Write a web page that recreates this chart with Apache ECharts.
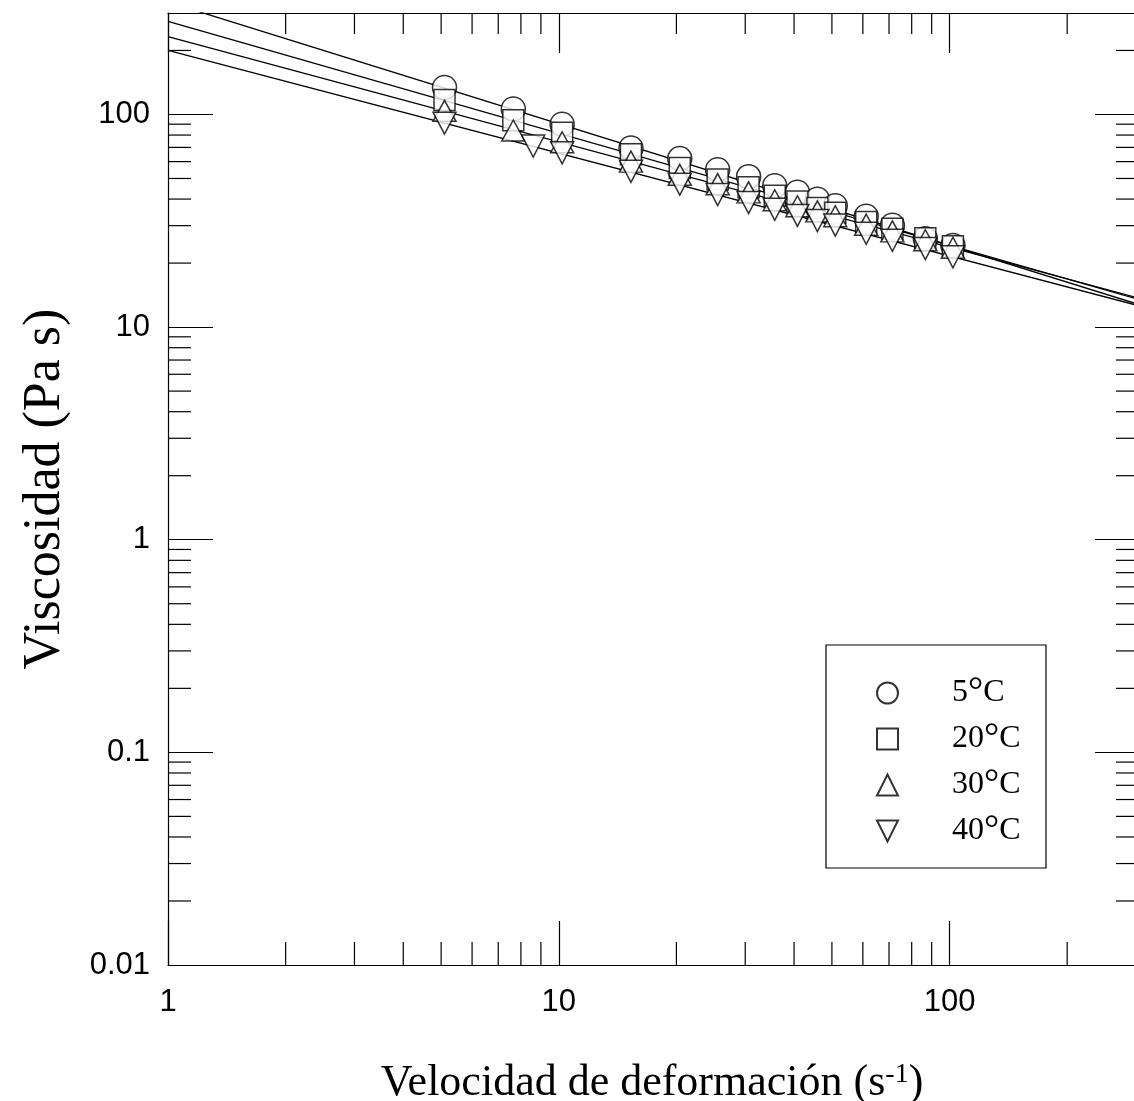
<!DOCTYPE html>
<html>
<head>
<meta charset="utf-8">
<script src="https://cdn.jsdelivr.net/npm/echarts@6/dist/echarts.min.js"></script>
<style>
  html, body { margin: 0; padding: 0; background: #fff; }
  #chart { width: 1134px; height: 1101px; }
</style>
</head>
<body>
<div id="chart"></div>
<script>
// shear rates (s^-1)
const shearRate = [5.1, 7.65, 10.2, 15.3, 20.4, 25.5, 30.6, 35.7, 40.8, 45.9, 51, 61.2, 71.4, 86.7, 102];
const shearRate40 = [5.1, 8.6, 10.2, 15.3, 20.4, 25.5, 30.6, 35.7, 40.8, 45.9, 51, 61.2, 71.4, 86.7, 102];

// viscosity (Pa s)
const visc5 = [134, 106, 90, 69.5, 62, 55, 51, 46.2, 43.1, 39.9, 37.2, 33.2, 30.1, 26.0, 24.2];
const visc20 = [117, 94, 82, 65, 56, 49.5, 45.5, 41.5, 39, 36.3, 34.5, 31.2, 29, 26.2, 24.0];
const visc30 = [104, 84, 74, 60, 52, 47, 43, 39.5, 37, 35, 33.2, 30.3, 28.2, 25.6, 23.6];
const visc40 = [91, 71, 66, 54, 47, 42, 38.5, 35.8, 33.5, 31.7, 30.2, 27.6, 25.6, 23.4, 21.4];

// power-law fit lines, value read at x = 1 and x = 300
const fitAt1 = [338, 274, 232, 200];
const fitAt300 = [12.9, 13.6, 13.8, 12.7];

const seriesNames = ['5°C', '20°C', '30°C', '40°C'];
const xTickLabels = ['1', '10', '100'];
const yTickLabels = ['0.01', '0.1', '1', '10', '100'];

const xMin = 1, xMax = 300, yMin = 0.01, yMax = 300;

// minor ticks 2..9 of each decade
function minorTicks(lo, hi) {
  const out = [];
  for (let e = Math.floor(Math.log10(lo)); e <= Math.ceil(Math.log10(hi)); e++) {
    for (let m = 2; m <= 9; m++) {
      const v = m * Math.pow(10, e);
      if (v > lo && v < hi) out.push(v);
    }
  }
  return out;
}
const xMinor = minorTicks(xMin, xMax);
const yMinor = minorTicks(yMin, yMax);

function decadeLabel(labels) {
  return function (v) {
    for (const s of labels) {
      if (Math.abs(parseFloat(s) - v) / v < 1e-6) return s;
    }
    return '';
  };
}

const black = '#000';
const serif = 'Liberation Serif';
const sans = 'Liberation Sans';

const axisBase = {
  type: 'log',
  logBase: 10,
  axisLine: { show: true, lineStyle: { color: black, width: 1.2 } },
  splitLine: { show: false },
  minorTick: { show: false },
};

const markerStyle = { color: '#fff', borderColor: black, borderWidth: 1.5 };
const symbols = ['circle', 'rect', 'triangle', 'path://M0,0L10,0L5,10Z'];
const sizes = [24, 21, [23, 21], [23, 22]];
const xData = [shearRate, shearRate, shearRate, shearRate40];
const yData = [visc5, visc20, visc30, visc40];

const fitSeries = fitAt1.map((v, i) => ({
  name: 'fit' + i,
  type: 'line',
  data: [[xMin, v], [xMax, fitAt300[i]]],
  showSymbol: false,
  symbol: 'none',
  lineStyle: { color: black, width: 1.3 },
  clip: true,
  silent: true,
  z: 2,
}));

const pointSeries = seriesNames.map((name, i) => ({
  name: name,
  type: 'scatter',
  data: xData[i].map((x, j) => [x, yData[i][j]]),
  symbol: symbols[i],
  symbolSize: sizes[i],
  itemStyle: markerStyle,
  z: 3,
}));

const minorSeries = {
  type: 'custom',
  silent: true,
  clip: false,
  z: 4,
  data: xMinor.map(v => [v, yMin, 0]).concat(yMinor.map(v => [xMin, v, 1])),
  renderItem(params, api) {
    const kind = api.value(2);
    const st = { stroke: black, lineWidth: 1.2 };
    if (kind === 0) {
      const b = api.coord([api.value(0), yMin]);
      const t = api.coord([api.value(0), yMax]);
      return { type: 'group', children: [
        { type: 'line', shape: { x1: b[0], y1: b[1], x2: b[0], y2: b[1] - 23 }, style: st },
        { type: 'line', shape: { x1: t[0], y1: t[1], x2: t[0], y2: t[1] + 21 }, style: st },
      ] };
    }
    const l = api.coord([xMin, api.value(1)]);
    const r = api.coord([xMax, api.value(1)]);
    return { type: 'group', children: [
      { type: 'line', shape: { x1: l[0], y1: l[1], x2: l[0] + 23, y2: l[1] }, style: st },
      { type: 'line', shape: { x1: r[0], y1: r[1], x2: r[0] - 20, y2: r[1] }, style: st },
    ] };
  },
};

const chart = echarts.init(document.getElementById('chart'));
chart.setOption({
  animation: false,
  backgroundColor: '#fff',
  grid: { left: 168, top: 13, width: 968, height: 952, outerBoundsMode: 'none', containLabel: false },
  xAxis: [
    Object.assign({}, axisBase, {
      min: xMin, max: xMax, position: 'bottom',
      axisTick: { show: true, inside: true, length: 44, lineStyle: { color: black, width: 1.2 } },
      axisLabel: { formatter: decadeLabel(xTickLabels), color: black, fontFamily: sans, fontSize: 31, margin: 22 },
      name: 'Velocidad de deformación (s{sup|-1})',
      nameLocation: 'middle',
      nameGap: 96,
      nameTextStyle: {
        color: black, fontFamily: serif, fontSize: 44,
        rich: { sup: { color: black, fontFamily: serif, fontSize: 28, verticalAlign: 'top', lineHeight: 22 } },
      },
    }),
    Object.assign({}, axisBase, {
      min: xMin, max: xMax, position: 'top',
      axisTick: { show: true, inside: true, length: 40, lineStyle: { color: black, width: 1.2 } },
      axisLabel: { show: false },
    }),
  ],
  yAxis: [
    Object.assign({}, axisBase, {
      min: yMin, max: yMax, position: 'left',
      axisTick: { show: true, inside: true, length: 45, lineStyle: { color: black, width: 1.2 } },
      axisLabel: { formatter: decadeLabel(yTickLabels), color: black, fontFamily: sans, fontSize: 31, margin: 18 },
      name: 'Viscosidad (Pa s)',
      nameLocation: 'middle',
      nameGap: 97,
      nameTextStyle: { color: black, fontFamily: serif, fontSize: 52 },
    }),
    Object.assign({}, axisBase, {
      min: yMin, max: yMax, position: 'right',
      axisTick: { show: true, inside: true, length: 41, lineStyle: { color: black, width: 1.2 } },
      axisLabel: { show: false },
    }),
  ],
  legend: {
    data: seriesNames,
    orient: 'vertical',
    left: 871,
    top: 669,
    itemWidth: 21,
    itemHeight: 21,
    itemGap: 8,
    selectedMode: false,
    formatter: name => name.replace('°', '{deg|°}'),
    textStyle: {
      color: black, fontFamily: serif, fontSize: 32, lineHeight: 32,
      padding: [0, 0, 0, 49],
      rich: { deg: { color: black, fontFamily: serif, fontSize: 38, lineHeight: 32 } },
    },
  },
  graphic: [{
    type: 'rect',
    shape: { x: 826, y: 645, width: 220, height: 223 },
    style: { fill: 'none', stroke: black, lineWidth: 1.2 },
    z: 10,
  }],
  series: fitSeries.concat(pointSeries, [minorSeries]),
});
</script>
</body>
</html>
